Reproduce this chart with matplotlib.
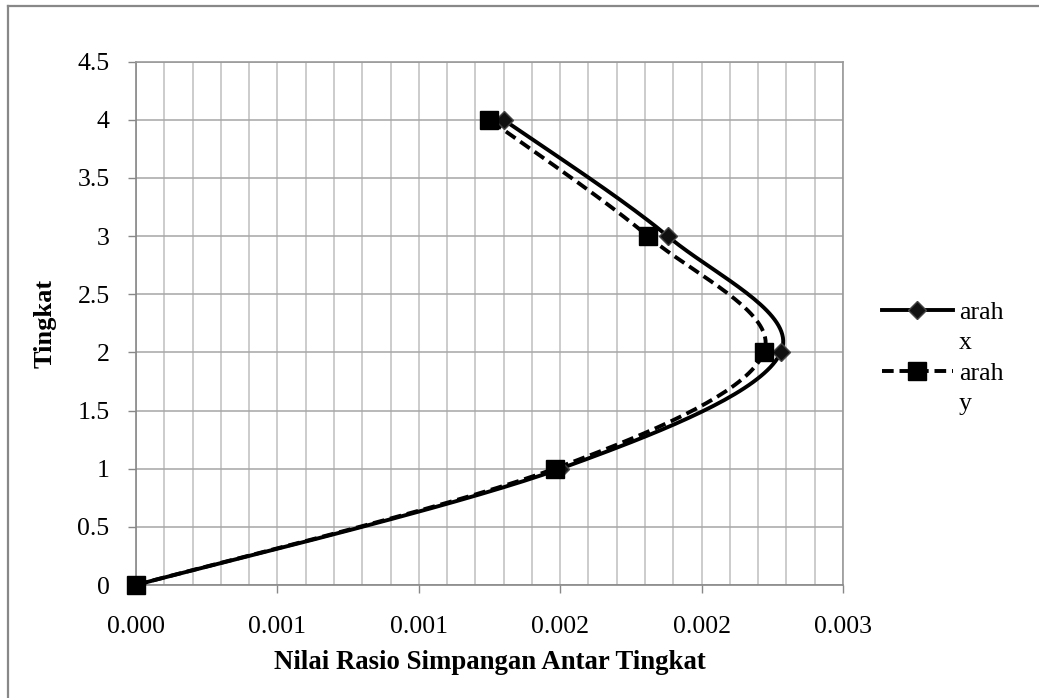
import numpy as np
import matplotlib
matplotlib.use("Agg")
import matplotlib.pyplot as plt
from matplotlib.lines import Line2D
from matplotlib.ticker import MultipleLocator

# ---- data ----
levels = [0, 1, 2, 3, 4]
arah_x = [0.0, 0.00150, 0.00228, 0.00188, 0.00130]
arah_y = [0.0, 0.00148, 0.00222, 0.00181, 0.00125]
xtick_vals = [0.0, 0.0005, 0.0010, 0.0015, 0.0020, 0.0025]
xtick_labels = ["0.000", "0.001", "0.001", "0.002", "0.002", "0.003"]
ytick_vals = [0, 0.5, 1, 1.5, 2, 2.5, 3, 3.5, 4, 4.5]
ytick_labels = ["0", "0.5", "1", "1.5", "2", "2.5", "3", "3.5", "4", "4.5"]

plt.rcParams['font.family'] = ['Liberation Serif', 'DejaVu Serif']
FS = 18.5

W, H = 1039, 698
fig = plt.figure(figsize=(W / 100, H / 100), dpi=100)
ax = fig.add_axes([136 / W, 1 - 585 / H, (843 - 136) / W, (585 - 61.7) / H])

ax.set_xlim(0, 0.0025)
ax.set_ylim(0, 4.5)
ax.set_xticks(xtick_vals)
ax.set_xticklabels(xtick_labels)
ax.set_yticks(ytick_vals)
ax.set_yticklabels(ytick_labels)
ax.xaxis.set_minor_locator(MultipleLocator(0.0001))
ax.tick_params(axis='both', which='major', direction='out', length=6, width=1,
               color='#888888', labelsize=FS)
ax.tick_params(axis='x', which='major', pad=16)
ax.tick_params(axis='y', which='major', pad=13)
ax.tick_params(axis='x', which='minor', length=0)
ax.grid(True, axis='y', which='major', color='#a6a6a6', lw=1.1)
ax.grid(True, axis='x', which='both', color='#bfbfbf', lw=1.1)
ax.set_axisbelow(True)
for s in ax.spines.values():
    s.set_color('#999999')
    s.set_linewidth(1.2)
ax.spines['left'].set_color('#888888')
ax.spines['bottom'].set_color('#888888')

ax.set_xlabel("Nilai Rasio Simpangan Antar Tingkat", fontsize=19.3, fontweight='bold', labelpad=9)
ax.set_ylabel("Tingkat", fontsize=19, fontweight='bold', labelpad=15)


def smooth(xs, ys, n=40):
    pts = ax.transData.transform(np.column_stack([xs, ys]))
    P = np.vstack([pts[0], pts, pts[-1]])
    out = []
    for i in range(1, len(P) - 2):
        p0, p1, p2, p3 = P[i - 1], P[i], P[i + 1], P[i + 2]
        c1 = p1 + (p2 - p0) / 6.0
        c2 = p2 - (p3 - p1) / 6.0
        t = np.linspace(0, 1, n)[:, None]
        seg = ((1 - t) ** 3) * p1 + 3 * ((1 - t) ** 2) * t * c1 + 3 * (1 - t) * t ** 2 * c2 + t ** 3 * p2
        out.append(seg if i == 1 else seg[1:])
    curve = np.vstack(out)
    d = ax.transData.inverted().transform(curve)
    return d[:, 0], d[:, 1]


LW = 2.8
DASH = (3.0, 1.5)
sx, sy = smooth(arah_x, levels)
ax.plot(sx, sy, color='black', lw=LW, solid_capstyle='round', zorder=3)
ax.plot(arah_x, levels, linestyle='none', marker='D', ms=9, mfc='#111111', mec='#444444',
        mew=1, zorder=5, clip_on=False)

dx, dy = smooth(arah_y, levels)
ax.plot(dx, dy, color='black', lw=LW, dashes=DASH, zorder=4)
ax.plot(arah_y, levels, linestyle='none', marker='s', ms=12.5, mfc='black', mec='black',
        zorder=6, clip_on=False)

handles = [
    Line2D([], [], color='black', lw=LW, marker='D', ms=9, mfc='#111111', mec='#444444'),
    Line2D([], [], color='none'),
    Line2D([], [], color='black', lw=LW, dashes=DASH, marker='s', ms=12.5, mfc='black'),
    Line2D([], [], color='none'),
]
labels = ["arah", "x", "arah", "y"]
fig.legend(handles, labels, loc='center left', bbox_to_anchor=(882 / W, 1 - 358 / H),
           frameon=False, fontsize=FS, handlelength=2.76, handletextpad=0.23,
           labelspacing=0.28, borderpad=0, borderaxespad=0)

# outer chart frame (left and top edges visible)
fig.add_artist(Line2D([8 / W, 8 / W], [0, 1 - 6 / H], transform=fig.transFigure,
                      color='#888888', lw=1.6))
fig.add_artist(Line2D([8 / W, 1], [1 - 6 / H, 1 - 6 / H], transform=fig.transFigure,
                      color='#888888', lw=1.6))

fig.savefig("out.png", dpi=100)
